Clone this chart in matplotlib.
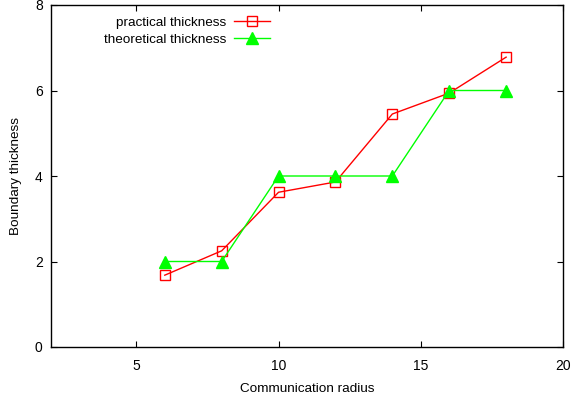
import matplotlib
matplotlib.use("Agg")
import matplotlib.pyplot as plt

radius = [6, 8, 10, 12, 14, 16, 18]
practical = [1.68, 2.25, 3.62, 3.86, 5.45, 5.94, 6.78]
theoretical = [2, 2, 4, 4, 4, 6, 6]
xticks = [5, 10, 15, 20]
yticks = [0, 2, 4, 6, 8]

plt.rcParams['font.family'] = ['Liberation Sans', 'DejaVu Sans']
fig = plt.figure(figsize=(5.74, 4.01), dpi=100)
ax = fig.add_axes([51/574, 54/401, 512/574, 342/401])

ax.plot(radius, practical, color='#ff0000', lw=1, marker='s', ms=7,
        mfc='none', mec='#ff0000', mew=1, label='practical thickness')
ax.plot(radius, theoretical, color='#00ff00', lw=1, marker='^', ms=9,
        mfc='#00ff00', mec='#00ff00', label='theoretical thickness')

ax.set_xlim(2, 20)
ax.set_ylim(0, 8)
ax.set_xticks(xticks)
ax.set_yticks(yticks)
ax.tick_params(direction='in', top=True, right=True, length=4, width=0.8,
               labelsize=10, pad=9)
ax.tick_params(axis='y', pad=6)
for s in ax.spines.values():
    s.set_linewidth(1)
ax.set_xlabel('Communication radius', fontsize=9.7, labelpad=7)
ax.set_ylabel('Boundary thickness', fontsize=9.7, labelpad=9)

leg = ax.legend(loc='upper left', bbox_to_anchor=(0.087, 0.99), frameon=False,
                markerfirst=False, fontsize=9.7, handlelength=2.7,
                handletextpad=0.6, labelspacing=0.35, borderaxespad=0.2)

fig.savefig('out.png', dpi=100)
